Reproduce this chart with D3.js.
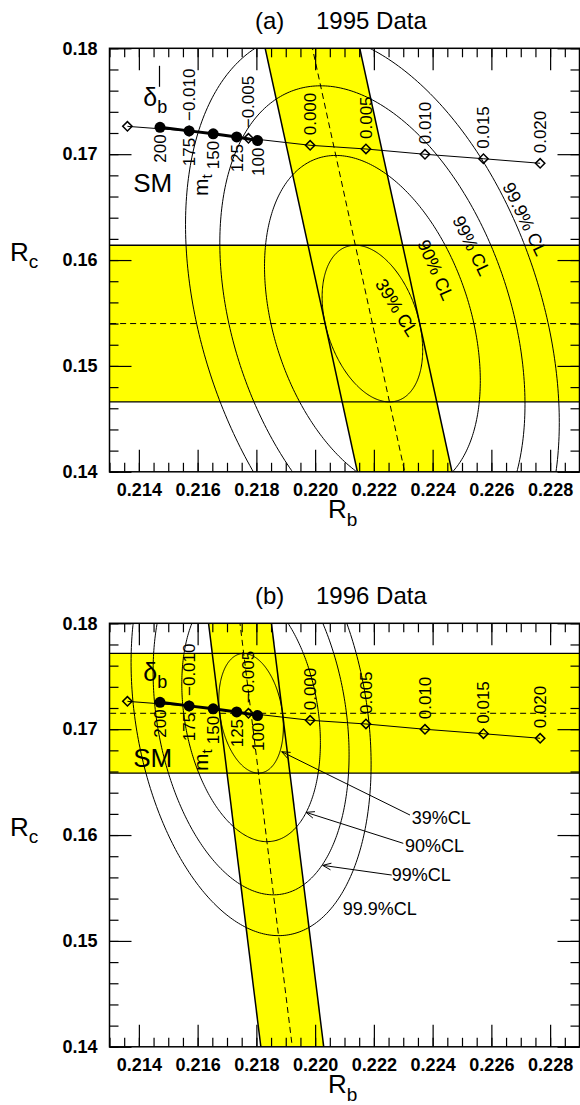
<!DOCTYPE html>
<html>
<head>
<meta charset="utf-8">
<script src="https://cdn.jsdelivr.net/npm/d3@7"></script>
<style>
  html, body { margin: 0; padding: 0; background: #fff; }
  svg { display: block; font-family: "Liberation Sans", Arial, Helvetica, sans-serif; }
</style>
</head>
<body>
<svg id="chart" width="580" height="1105"></svg>
<script>
// ---- Standard Model prediction versus top mass (GeV) ----
const mtValues = [200, 175, 150, 125, 100];
const mtRb = [0.21472, 0.21571, 0.21653, 0.21733, 0.21804];
const mtRc = [0.17254, 0.17220, 0.17192, 0.17163, 0.17129];

// ---- Prediction versus an extra Zbb vertex correction delta_b ----
const deltaB = [-0.015, -0.010, -0.005, 0.000, 0.005, 0.010, 0.015, 0.020];
const deltaRb = [0.21361, 0.21571, 0.21773, 0.21983, 0.22173, 0.22374, 0.22573, 0.22766];
const deltaRc = [0.17263, 0.17219, 0.17150, 0.17084, 0.17049, 0.16999, 0.16957, 0.16914];
const deltaLabels = ["", "\u22120.010", "\u22120.005", "0.000", "0.005", "0.010", "0.015", "0.020"];

// ---- Measurements, one entry per data set ----
const panelTags = ["(a)", "(b)"];
const panelTitles = ["1995 Data", "1996 Data"];
const rcValue = [0.1540, 0.1715];      // measured Rc
const rcError = [0.0074, 0.00565];     // Rc uncertainty
const rbAtRc = [0.22195, 0.21782];     // Rb band centre at Rc = rcValue
const rbSlope = [-0.0785, -0.0445];    // dependence of Rb on the assumed Rc
const rbError = [0.00161, 0.00107];    // Rb uncertainty at fixed Rc

// ---- Confidence-level contours (two degrees of freedom) ----
const clLabels = ["39%", "90%", "99%", "99.9%"];
const clChi2 = [1.0, 4.605, 9.210, 13.816];

// ---- Axis ticks ----
const xMajorTicks = [0.214, 0.216, 0.218, 0.220, 0.222, 0.224, 0.226, 0.228];
const yMajorTicks = [0.14, 0.15, 0.16, 0.17, 0.18];

// ---------------------------------------------------------------
const svg = d3.select("#chart");
const frameLeft = 109.5, frameRight = 579.5, frameH = 423.5;
const panelTops = [48.3, 623.3];
const YELLOW = "#ffff00";

const x = d3.scaleLinear().domain([0.213, 0.229]).range([frameLeft, frameRight]);
const y = d3.scaleLinear().domain([0.14, 0.18]).range([frameH, 0]);
const xMinorTicks = x.ticks(32);
const yMinorTicks = y.ticks(20);

const line = d3.line().x(d => x(d[0])).y(d => y(d[1]));

function ellipse(mx, my, sx, sy, cov, chi2) {
  const s = Math.sqrt(chi2);
  const l21 = cov / sx;
  const l22 = Math.sqrt(sy * sy - l21 * l21);
  return d3.range(0, 361).map(a => {
    const t = a * Math.PI / 180;
    return [mx + s * sx * Math.cos(t), my + s * (l21 * Math.cos(t) + l22 * Math.sin(t))];
  });
}

function arrow(g, tail, tip) {
  const x0 = x(tail[0]), y0 = y(tail[1]), x1 = x(tip[0]), y1 = y(tip[1]);
  const ang = Math.atan2(y0 - y1, x0 - x1);
  const len = 9, spread = 22 * Math.PI / 180;
  g.append("line").attr("x1", x0).attr("y1", y0).attr("x2", x1).attr("y2", y1)
    .attr("stroke", "#000").attr("stroke-width", 1);
  g.append("path")
    .attr("d", `M${x1 + len * Math.cos(ang + spread)},${y1 + len * Math.sin(ang + spread)}L${x1},${y1}L${x1 + len * Math.cos(ang - spread)},${y1 + len * Math.sin(ang - spread)}`)
    .attr("fill", "none").attr("stroke", "#000").attr("stroke-width", 1);
}

panelTops.forEach((top, i) => {
  const g = svg.append("g").attr("transform", `translate(0,${top})`);
  const clipId = "clip" + i;
  g.append("clipPath").attr("id", clipId).append("rect")
    .attr("x", frameLeft).attr("y", 0).attr("width", frameRight - frameLeft).attr("height", frameH);
  const plot = g.append("g").attr("clip-path", `url(#${clipId})`);

  // Rc measurement band
  const rcHiEdge = rcValue[i] + rcError[i], rcLoEdge = rcValue[i] - rcError[i];
  plot.append("rect")
    .attr("x", frameLeft).attr("width", frameRight - frameLeft)
    .attr("y", y(rcHiEdge)).attr("height", y(rcLoEdge) - y(rcHiEdge))
    .attr("fill", YELLOW);

  // Rb measurement band (tilted by its Rc dependence)
  const centre = rc => rbAtRc[i] + rbSlope[i] * (rc - rcValue[i]);
  const rcA = 0.185, rcB = 0.135;
  const band = [[centre(rcA) - rbError[i], rcA], [centre(rcA) + rbError[i], rcA],
                [centre(rcB) + rbError[i], rcB], [centre(rcB) - rbError[i], rcB]];
  plot.append("path").attr("d", line(band) + "Z").attr("fill", YELLOW);

  // band edges and central values
  [rcHiEdge, rcLoEdge].forEach(v => {
    plot.append("path").attr("d", line([[0.212, v], [0.230, v]]))
      .attr("stroke", "#000").attr("stroke-width", 1.3).attr("fill", "none");
  });
  plot.append("path").attr("d", line([[0.212, rcValue[i]], [0.230, rcValue[i]]]))
    .attr("stroke", "#000").attr("stroke-width", 1).attr("stroke-dasharray", "6,4").attr("fill", "none");
  [-1, 1].forEach(sgn => {
    plot.append("path")
      .attr("d", line([[centre(rcA) + sgn * rbError[i], rcA], [centre(rcB) + sgn * rbError[i], rcB]]))
      .attr("stroke", "#000").attr("stroke-width", 1.5).attr("fill", "none");
  });
  plot.append("path").attr("d", line([[centre(rcA), rcA], [centre(rcB), rcB]]))
    .attr("stroke", "#000").attr("stroke-width", 1).attr("stroke-dasharray", "6,4").attr("fill", "none");

  // confidence-level ellipses of the combined measurement
  const cov = rbSlope[i] * rcError[i] * rcError[i];
  const sx = Math.sqrt(rbError[i] * rbError[i] + rbSlope[i] * rbSlope[i] * rcError[i] * rcError[i]);
  clChi2.forEach(k => {
    plot.append("path").attr("d", line(ellipse(rbAtRc[i], rcValue[i], sx, rcError[i], cov, k)) + "Z")
      .attr("fill", "none").attr("stroke", "#000").attr("stroke-width", 1);
  });

  // SM curves
  const dPts = deltaB.map((d, j) => [deltaRb[j], deltaRc[j]]);
  const mPts = mtValues.map((d, j) => [mtRb[j], mtRc[j]]);
  plot.append("path").attr("d", line(dPts)).attr("fill", "none").attr("stroke", "#000").attr("stroke-width", 1);
  plot.append("path").attr("d", line(mPts)).attr("fill", "none").attr("stroke", "#000").attr("stroke-width", 3);
  const diamond = d3.symbol(d3.symbolSquare, 44);
  plot.selectAll(".dmark").data(dPts).join("path").attr("class", "dmark")
    .attr("d", diamond)
    .attr("transform", d => `translate(${x(d[0])},${y(d[1])}) rotate(45)`)
    .attr("fill", "none").attr("stroke", "#000").attr("stroke-width", 1.5);
  plot.selectAll(".mmark").data(mPts).join("circle").attr("class", "mmark")
    .attr("cx", d => x(d[0])).attr("cy", d => y(d[1])).attr("r", 5.5).attr("fill", "#000");

  // delta_b labels above the points, top-mass labels below
  deltaB.forEach((d, j) => {
    if (!deltaLabels[j]) return;
    const px = x(deltaRb[j]), py = y(deltaRc[j]) - 10;
    g.append("text").attr("transform", `translate(${px},${py}) rotate(-90)`)
      .attr("dy", "0.35em").attr("font-size", 17).attr("text-anchor", "start").text(deltaLabels[j]);
  });
  mtValues.forEach((m, j) => {
    const px = x(mtRb[j]), py = y(mtRc[j]) + 7;
    g.append("text").attr("transform", `translate(${px},${py}) rotate(-90)`)
      .attr("dy", "0.35em").attr("font-size", 17).attr("text-anchor", "end").text(m);
  });

  // curve names
  const dl = g.append("text").attr("x", x(0.21415)).attr("y", y(0.17456)).attr("font-size", 25);
  dl.append("tspan").text("\u03b4");
  dl.append("tspan").attr("font-size", 18).attr("dy", 7).text("b");
  if (i === 0) {
    g.append("line").attr("x1", 159.5).attr("x2", 159.5).attr("y1", y(0.17457) - 40).attr("y2", y(0.17457) - 19)
      .attr("stroke", "#000").attr("stroke-width", 1.2);
  }
  g.append("text").attr("x", x(0.21381)).attr("y", y(0.16646)).attr("font-size", 26).text("SM");
  const mt = g.append("text").attr("transform", `translate(${x(0.21635)},${y(0.16606)}) rotate(-90)`)
    .attr("font-size", 21);
  mt.append("tspan").text("m");
  mt.append("tspan").attr("font-size", 15).attr("dy", 4).text("t");

  // contour labels
  if (i === 0) {
    const spots = [[0.222777, 0.155518, 58], [0.224108, 0.159060, 66],
                   [0.225330, 0.161346, 64], [0.227145, 0.163877, 64]];
    clLabels.forEach((c, j) => {
      const s = spots[j];
      g.append("text").attr("transform", `translate(${x(s[0])},${y(s[1])}) rotate(${s[2]})`)
        .attr("text-anchor", "middle").attr("dy", "0.35em").attr("font-size", 18).text(c + " CL");
    });
  } else {
    const spots = [[0.223288, 0.161039], [0.223060, 0.158422], [0.222607, 0.155683], [0.220939, 0.152442]];
    const arrows = [[[0.223230, 0.161889], [0.218862, 0.167870]],
                    [[0.223002, 0.159216], [0.219689, 0.162145]],
                    [[0.222607, 0.156221], [0.220258, 0.157137]]];
    arrows.forEach(a => arrow(g, a[0], a[1]));
    clLabels.forEach((c, j) => {
      g.append("text").attr("x", x(spots[j][0])).attr("y", y(spots[j][1]))
        .attr("font-size", 18).text(c + "CL");
    });
  }

  // axes: minor and major ticks on all four sides, labels left and bottom
  const tickStyle = sel => {
    sel.select(".domain").remove();
    sel.selectAll(".tick line").attr("stroke", "#000").attr("stroke-width", 1.2);
  };
  const labelStyle = sel => sel.selectAll("text").attr("font-size", 18).attr("font-weight", "bold")
    .attr("fill", "#000").attr("font-family", null);
  g.append("g").attr("transform", `translate(0,${frameH})`)
    .call(d3.axisBottom(x).tickValues(xMinorTicks).tickSize(-9).tickFormat("")).call(tickStyle);
  g.append("g").attr("transform", `translate(0,${frameH})`)
    .call(d3.axisBottom(x).tickValues(xMajorTicks).tickSize(-22).tickPadding(11).tickFormat(d3.format(".3f")))
    .call(tickStyle).call(labelStyle);
  g.append("g").call(d3.axisTop(x).tickValues(xMinorTicks).tickSize(-9).tickFormat("")).call(tickStyle);
  g.append("g").call(d3.axisTop(x).tickValues(xMajorTicks).tickSize(-22).tickFormat("")).call(tickStyle);
  g.append("g").attr("transform", `translate(${frameLeft},0)`)
    .call(d3.axisLeft(y).tickValues(yMinorTicks).tickSize(-9).tickFormat("")).call(tickStyle);
  g.append("g").attr("transform", `translate(${frameLeft},0)`)
    .call(d3.axisLeft(y).tickValues(yMajorTicks).tickSize(-22).tickPadding(12).tickFormat(d3.format(".2f")))
    .call(tickStyle).call(labelStyle);
  g.append("g").attr("transform", `translate(${frameRight},0)`)
    .call(d3.axisRight(y).tickValues(yMinorTicks).tickSize(-9).tickFormat("")).call(tickStyle);
  g.append("g").attr("transform", `translate(${frameRight},0)`)
    .call(d3.axisRight(y).tickValues(yMajorTicks).tickSize(-22).tickFormat("")).call(tickStyle);
  g.selectAll(".tick text").attr("font-family", null);

  g.append("rect").attr("x", frameLeft).attr("y", 0)
    .attr("width", frameRight - frameLeft).attr("height", frameH)
    .attr("fill", "none").attr("stroke", "#000").attr("stroke-width", 1.5);

  // titles and axis names
  const title = g.append("text").attr("y", -19).attr("font-size", 24);
  title.append("tspan").attr("x", 255).text(panelTags[i]);
  title.append("tspan").attr("x", 316).text(panelTitles[i]);

  const rb = g.append("text").attr("x", 328).attr("y", frameH + 46.5).attr("font-size", 26);
  rb.append("tspan").text("R");
  rb.append("tspan").attr("font-size", 19).attr("dy", 8).text("b");
  const rc = g.append("text").attr("x", 10).attr("y", 212.4).attr("font-size", 26);
  rc.append("tspan").text("R");
  rc.append("tspan").attr("font-size", 19).attr("dy", 7.5).text("c");
});
</script>
</body>
</html>
